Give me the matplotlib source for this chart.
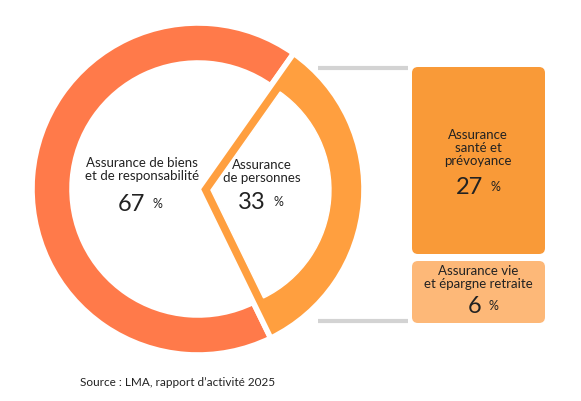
import matplotlib
matplotlib.use("Agg")
import matplotlib.pyplot as plt
import numpy as np
from matplotlib.patches import Wedge, FancyBboxPatch

plt.rcParams["font.family"] = ["Lato", "DejaVu Sans"]

labels = ["Assurance de biens\net de responsabilité", "Assurance\nde personnes"]
shares = [67, 33]
sub_labels = ["Assurance\nsanté et\nprévoyance", "Assurance vie\net épargne retraite"]
sub_shares = [27, 6]

RED = "#FF7A4A"
ORANGE = "#FF9F3F"
BOX1 = "#F99A38"
BOX2 = "#FDB878"
TXT = "#222222"
H = 402

fig = plt.figure(figsize=(5.81, 4.02), dpi=100)
ax = fig.add_axes([0, 0, 1, 1])
ax.set_xlim(0, 581)
ax.set_ylim(0, H)
ax.set_aspect("equal")
ax.axis("off")

cx, cy = 198, H - 190
r_out, ring = 166, 40
span = 360 * shares[1] / 100
t1 = -64
t2 = t1 + span

# big slice: ring only
ax.add_patch(Wedge((cx, cy), r_out, t2, t1 + 360, width=ring,
                   facecolor=RED, edgecolor="white", lw=4))
# small slice: full wedge, hollowed to leave thin radial strokes
ax.add_patch(Wedge((cx, cy), r_out, t1, t2, facecolor=ORANGE,
                   edgecolor="white", lw=4))
mid = np.radians((t1 + t2) / 2)
d = 13
ax.add_patch(Wedge((cx + d * np.cos(mid), cy + d * np.sin(mid)), r_out - ring - 6,
                   t1, t2, facecolor="white", edgecolor="white", lw=1))

NUM = 17
# slice labels
ax.text(142, H - 170, labels[0], ha="center", va="center", fontsize=9.5,
        color=TXT, linespacing=1.1)
ax.text(145, H - 205, f"{shares[0]}", ha="right", va="center", fontsize=NUM, color=TXT)
ax.text(152, H - 204, "%", ha="left", va="center", fontsize=9, color=TXT)
ax.text(262, H - 172, labels[1], ha="center", va="center", fontsize=9.5,
        color=TXT, linespacing=1.1)
ax.text(266, H - 203, f"{shares[1]}", ha="right", va="center", fontsize=NUM, color=TXT)
ax.text(273, H - 202, "%", ha="left", va="center", fontsize=9, color=TXT)

# connector lines
ax.plot([318, 408], [H - 69, H - 69], color="#d3d3d3", lw=3, solid_capstyle="butt")
ax.plot([318, 408], [H - 322, H - 322], color="#d3d3d3", lw=3, solid_capstyle="butt")

# breakdown boxes
boxes = [(412, 68, 133, 187, BOX1), (412, 262, 133, 62, BOX2)]
for (x, y, w, h, c) in boxes:
    ax.add_patch(FancyBboxPatch((x + 6, H - y - h + 6), w - 12, h - 12,
                                boxstyle="round,pad=6", facecolor=c, edgecolor="none"))
xs = 478
ax.text(xs, H - 148, sub_labels[0], ha="center", va="center", fontsize=9.5,
        color=TXT, linespacing=1.1)
ax.text(xs + 5, H - 188, f"{sub_shares[0]}", ha="right", va="center", fontsize=NUM, color=TXT)
ax.text(xs + 12, H - 187, "%", ha="left", va="center", fontsize=9, color=TXT)
ax.text(xs, H - 278, sub_labels[1], ha="center", va="center", fontsize=9.5,
        color=TXT, linespacing=1.1)
ax.text(xs + 3, H - 307, f"{sub_shares[1]}", ha="right", va="center", fontsize=NUM, color=TXT)
ax.text(xs + 10, H - 306, "%", ha="left", va="center", fontsize=9, color=TXT)

ax.text(80, H - 383, "Source : LMA, rapport d\u2019activité 2025", ha="left", va="center",
        fontsize=8.5, color=TXT)

fig.savefig("out.png", dpi=100)
